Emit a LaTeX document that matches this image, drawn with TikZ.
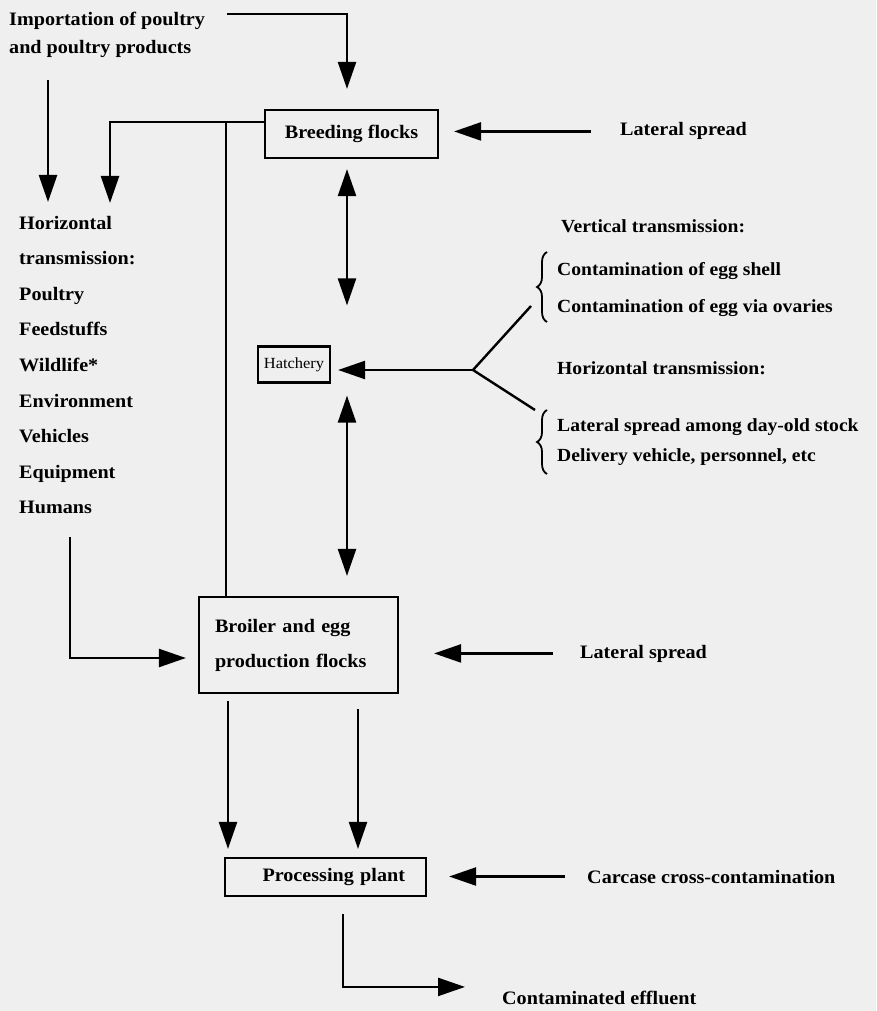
\documentclass[tikz,border=0pt]{standalone}
\usepackage{fontspec}
\setmainfont[FakeStretch=1.06]{Liberation Serif}
\usetikzlibrary{arrows.meta,positioning,decorations.pathreplacing}
\definecolor{paper}{RGB}{239,239,239}

\begin{document}
\begin{tikzpicture}[
    x=1pt, y=-1pt,
    font=\fontsize{19}{22}\selectfont\bfseries,
    >={Triangle[length=27pt,width=18pt]},
    box/.style={rectangle, draw, line width=2.2pt, inner sep=0pt},
    lbl/.style={anchor=base west, inner sep=0pt},
    side/.style={anchor=base west, inner sep=0pt, font=\fontsize{18.5}{22}\selectfont\bfseries},
    arrow/.style={->, line width=2.4pt},
    link/.style={line width=2.4pt},
    brace/.style={decorate, decoration={brace, amplitude=10pt}, line width=1.8pt}
  ]
  \fill[paper] (0,0) rectangle (876,1011);
  \useasboundingbox (0,0) rectangle (876,1011);

  % boxes
  \node[box, minimum width=173pt, minimum height=48pt] (breeding) at (351.5,134) {Breeding flocks};
  \node[box, minimum width=72pt, minimum height=36pt, font=\fontsize{15.5}{18}\selectfont] (hatchery) at (294,364.5) {Hatchery};
  \node[box, minimum width=199pt, minimum height=96pt, text width=167pt, align=left,
        font=\fontsize{19}{35}\selectfont\bfseries] (broiler) at (298.5,645) {Broiler and egg\\production flocks};
  \node[box, minimum width=201pt, minimum height=38pt, text width=159pt, align=right] (processing) at (325.5,877) {Processing plant};

  % labels
  \node[lbl] (import1) at (9,26) {Importation of poultry};
  \node[lbl] (import2) at (9,54) {and poultry products};
  \foreach \t [count=\i] in {Horizontal, transmission:, Poultry, Feedstuffs, Wildlife*, Environment, Vehicles, Equipment, Humans}
    \node[lbl] (hz\i) at (19,{229+35.6*(\i-1)}) {\t};
  \node[lbl] (lateral1) at (620,136) {Lateral spread};
  \node[lbl] (lateral2) at (580,658) {Lateral spread};
  \node[lbl] (carcase) at (587,883) {Carcase cross-contamination};
  \node[lbl] (effluent) at (502,1004) {Contaminated effluent};
  \node[side] (vertical) at (561,232) {Vertical transmission:};
  \node[side] (shell) at (557,275) {Contamination of egg shell};
  \node[side] (ovaries) at (557,312) {Contamination of egg via ovaries};
  \node[side] (horizright) at (557,374) {Horizontal transmission:};
  \node[side] (dayold) at (557,431) {Lateral spread among day-old stock};
  \node[side] (delivery) at (557,461) {Delivery vehicle, personnel, etc};

  % free ends
  \coordinate (impend) at (227,14);
  \coordinate (imptop) at (48,80);
  \coordinate (impbot) at (48,202);
  \coordinate (hzin) at (110,203);
  \coordinate (junc) at (226,122);
  \coordinate (humans) at (70,537);
  \coordinate (fork) at (473,370);
  \coordinate (forkup) at (531,306);
  \coordinate (forkdown) at (535,410);

  % connectors
  \draw[arrow, shorten >=20pt] (impend) -| ([xshift=-4.5pt]breeding.north);
  \draw[arrow] (imptop) -- (impbot);
  \draw[arrow] ([yshift=12pt]breeding.west) -| (hzin);
  \draw[link] (junc) -- (junc |- broiler.north);
  \draw[arrow, shorten <=29pt, shorten >=15pt] (lateral1.west) -- (lateral1.west -| breeding.east);
  \draw[arrow, <->, shorten <=10pt, shorten >=40pt] ([xshift=-4.5pt]breeding.south) -- ([xshift=-4.5pt]breeding.south |- hatchery.north);
  \draw[arrow, <->, shorten <=12pt, shorten >=20pt] ([xshift=-4.5pt]breeding.south |- hatchery.south) -- ([xshift=-4.5pt]breeding.south |- broiler.north);
  \draw[arrow, shorten >=7pt] (fork) -- (hatchery.east |- fork);
  \draw[link] (forkup) -- (fork) -- (forkdown);
  \draw[brace] (547,322) -- (547,252);
  \draw[brace] (547,474) -- (547,410);
  \draw[arrow, shorten >=12pt] (humans) |- ([yshift=-13pt]broiler.west);
  \draw[arrow, shorten <=27pt, shorten >=35pt] (lateral2.west) -- (lateral2.west -| broiler.east);
  \draw[arrow, shorten <=7pt, shorten >=8pt] ([xshift=-70.5pt]broiler.south) -- ([xshift=-70.5pt]broiler.south |- processing.north);
  \draw[arrow, shorten <=15pt, shorten >=8pt] ([xshift=59.5pt]broiler.south) -- ([xshift=59.5pt]broiler.south |- processing.north);
  \draw[arrow, shorten <=22pt, shorten >=22pt] (carcase.west) -- (carcase.west -| processing.east);
  \draw[arrow, shorten <=17pt, shorten >=37pt] ([xshift=17.5pt]processing.south) |- ([yshift=10.5pt]effluent.west);
\end{tikzpicture}
\end{document}
